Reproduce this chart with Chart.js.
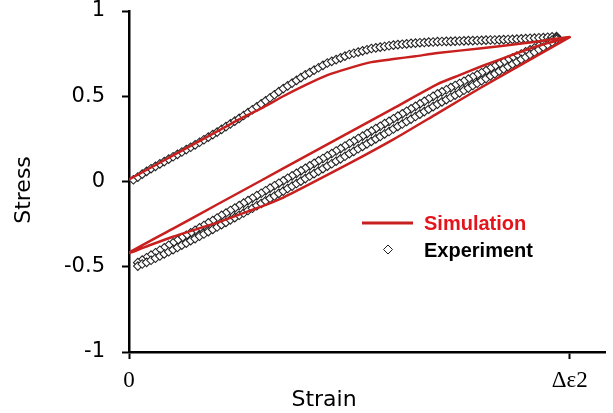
<!DOCTYPE html>
<html>
<head>
<meta charset="utf-8">
<script src="https://cdn.jsdelivr.net/npm/chart.js@4"></script>
<style>
  body { margin: 0; background: #fff; }
  canvas { display: block; }
</style>
</head>
<body>
<canvas id="hystChart" width="613" height="413"></canvas>
<script>
// tick labels
const xTickValues = [0, 1];
const xTickLabels = ["0", "Δε2"];
const yTickValues = [-1, -0.5, 0, 0.5, 1];
const yTickLabels = ["-1", "-0.5", "0", "0.5", "1"];

// simulation: loading, unloading, reloading (one path)
const simStrain = [0, 0.05, 0.1, 0.15, 0.2, 0.25, 0.3, 0.35, 0.4, 0.45, 0.5, 0.55, 0.6, 0.65, 0.7, 0.8, 0.9, 1.0,
    0.95, 0.9, 0.85, 0.8, 0.75, 0.7, 0.6, 0.5, 0.4, 0.3, 0.2, 0.1, 0,
    0.05, 0.1, 0.15, 0.2, 0.25, 0.3, 0.35, 0.4, 0.5, 0.6, 0.7, 0.8, 0.9, 1.0];
const simStress = [0.012, 0.082, 0.153, 0.224, 0.294, 0.365, 0.429, 0.5, 0.565, 0.624, 0.665, 0.7, 0.718, 0.735, 0.753, 0.782, 0.812, 0.847,
    0.812, 0.771, 0.724, 0.676, 0.624, 0.571, 0.429, 0.288, 0.147, 0.006, -0.135, -0.276, -0.418,
    -0.371, -0.324, -0.282, -0.241, -0.194, -0.147, -0.094, -0.029, 0.106, 0.247, 0.4, 0.553, 0.7, 0.847];

// experiment: three branches sampled on the same strain grid
const expStrain = [0.01, 0.02, 0.03, 0.04, 0.05, 0.06, 0.07, 0.08, 0.09, 0.1,
    0.11, 0.12, 0.13, 0.14, 0.15, 0.16, 0.17, 0.18, 0.19, 0.2,
    0.21, 0.22, 0.23, 0.24, 0.25, 0.26, 0.27, 0.28, 0.29, 0.3,
    0.31, 0.32, 0.33, 0.34, 0.35, 0.36, 0.37, 0.38, 0.39, 0.4,
    0.41, 0.42, 0.43, 0.44, 0.45, 0.46, 0.47, 0.48, 0.49, 0.5,
    0.51, 0.52, 0.53, 0.54, 0.55, 0.56, 0.57, 0.58, 0.59, 0.6,
    0.61, 0.62, 0.63, 0.64, 0.65, 0.66, 0.67, 0.68, 0.69, 0.7,
    0.71, 0.72, 0.73, 0.74, 0.75, 0.76, 0.77, 0.78, 0.79, 0.8,
    0.81, 0.82, 0.83, 0.84, 0.85, 0.86, 0.87, 0.88, 0.89, 0.9,
    0.91, 0.92, 0.93, 0.94, 0.95, 0.96, 0.97];
const expLoading = [0.01, 0.026, 0.043, 0.059, 0.075, 0.089, 0.103, 0.117, 0.131, 0.145,
    0.159, 0.173, 0.187, 0.201, 0.215, 0.23, 0.245, 0.26, 0.275, 0.29,
    0.306, 0.322, 0.338, 0.354, 0.37, 0.387, 0.404, 0.421, 0.438, 0.455,
    0.473, 0.491, 0.509, 0.527, 0.545, 0.561, 0.577, 0.593, 0.609, 0.625,
    0.639, 0.653, 0.667, 0.681, 0.695, 0.705, 0.715, 0.725, 0.735, 0.745,
    0.752, 0.759, 0.766, 0.773, 0.78, 0.784, 0.788, 0.792, 0.796, 0.8,
    0.803, 0.805, 0.807, 0.81, 0.812, 0.814, 0.815, 0.817, 0.818, 0.82,
    0.821, 0.822, 0.822, 0.823, 0.824, 0.825, 0.826, 0.826, 0.827, 0.828,
    0.829, 0.83, 0.83, 0.831, 0.832, 0.833, 0.834, 0.835, 0.837, 0.838,
    0.84, 0.841, 0.843, 0.844, 0.846, 0.848, 0.85];
const expUnloading = [null, -0.476, -0.461, -0.447, -0.432, -0.418, -0.403, -0.389, -0.374, -0.36,
    -0.345, -0.33, -0.316, -0.301, -0.287, -0.272, -0.258, -0.243, -0.229, -0.214,
    -0.199, -0.185, -0.17, -0.156, -0.141, -0.127, -0.112, -0.098, -0.083, -0.069,
    -0.054, -0.039, -0.025, -0.01, 0.004, 0.019, 0.033, 0.048, 0.062, 0.077,
    0.092, 0.106, 0.121, 0.135, 0.15, 0.164, 0.179, 0.193, 0.208, 0.223,
    0.237, 0.252, 0.266, 0.281, 0.295, 0.31, 0.324, 0.339, 0.353, 0.368,
    0.383, 0.397, 0.412, 0.426, 0.441, 0.455, 0.47, 0.484, 0.499, 0.514,
    0.526, 0.538, 0.551, 0.563, 0.575, 0.588, 0.6, 0.613, 0.625, 0.638,
    0.65, 0.663, 0.675, 0.688, 0.7, 0.712, 0.724, 0.736, 0.748, 0.76,
    0.772, 0.783, 0.795, 0.806, 0.818, 0.83, 0.842];
const expReloading = [null, -0.496, -0.484, -0.474, -0.462, -0.45, -0.437, -0.425, -0.412, -0.4,
    -0.387, -0.373, -0.361, -0.347, -0.335, -0.321, -0.308, -0.294, -0.281, -0.267,
    -0.253, -0.24, -0.225, -0.212, -0.198, -0.185, -0.17, -0.157, -0.142, -0.129,
    -0.114, -0.099, -0.085, -0.07, -0.056, -0.041, -0.027, -0.012, 0.002, 0.017,
    0.032, 0.046, 0.061, 0.075, 0.09, 0.104, 0.119, 0.133, 0.148, 0.163,
    0.177, 0.192, 0.206, 0.221, 0.235, 0.25, 0.264, 0.279, 0.293, 0.308,
    0.323, 0.337, 0.352, 0.366, 0.381, 0.395, 0.41, 0.424, 0.439, 0.454,
    0.467, 0.48, 0.494, 0.507, 0.52, 0.535, 0.548, 0.563, 0.576, 0.591,
    0.604, 0.619, 0.632, 0.647, 0.66, 0.674, 0.688, 0.702, 0.716, 0.73,
    0.745, 0.759, 0.774, 0.788, 0.803, 0.818, 0.834];

const SIM_RED = "#c8201f";

const toPoints = (xs, ys) => xs.map((x, i) => ({ x: x, y: ys[i] })).filter(p => p.y !== null);

const expPoints = []
    .concat(toPoints(expStrain, expLoading))
    .concat(toPoints(expStrain, expUnloading).reverse())
    .concat(toPoints(expStrain, expReloading));

// titles and legend drawn by hand (legend sits inside the plot)
const extrasPlugin = {
    id: "extras",
    afterDraw(chart) {
        const ctx = chart.ctx;
        ctx.save();
        ctx.fillStyle = "#000";
        ctx.font = "22px 'DejaVu Sans'";
        ctx.textAlign = "center";
        ctx.textBaseline = "middle";
        ctx.fillText("Strain", 324, 400);
        ctx.translate(24, 190);
        ctx.rotate(-Math.PI / 2);
        ctx.fillText("Stress", 0, 0);
        ctx.restore();

        ctx.save();
        ctx.strokeStyle = SIM_RED;
        ctx.lineWidth = 3;
        ctx.beginPath();
        ctx.moveTo(362, 223);
        ctx.lineTo(413, 223);
        ctx.stroke();

        // diamond marker
        ctx.fillStyle = "#fff";
        ctx.strokeStyle = "#222";
        ctx.lineWidth = 1;
        ctx.beginPath();
        ctx.moveTo(388, 245);
        ctx.lineTo(392.5, 249.5);
        ctx.lineTo(388, 254);
        ctx.lineTo(383.5, 249.5);
        ctx.closePath();
        ctx.fill();
        ctx.stroke();

        ctx.font = "bold 20px 'Liberation Sans'";
        ctx.textAlign = "left";
        ctx.textBaseline = "alphabetic";
        ctx.fillStyle = "#e3141c";
        ctx.fillText("Simulation", 424, 230);
        ctx.fillStyle = "#000";
        ctx.fillText("Experiment", 424, 257);
        ctx.restore();
    }
};

const ctx = document.getElementById("hystChart").getContext("2d");

new Chart(ctx, {
    type: "scatter",
    data: {
        datasets: [
            {
                label: "Simulation",
                data: toPoints(simStrain, simStress),
                showLine: true,
                borderColor: SIM_RED,
                borderWidth: 2.5,
                pointRadius: 0,
                tension: 0.2,
                fill: false
            },
            {
                label: "Experiment",
                data: expPoints,
                showLine: false,
                pointStyle: "rectRot",
                pointRadius: 4.3,
                backgroundColor: "#fff",
                borderColor: "#222",
                borderWidth: 1.1
            }
        ]
    },
    options: {
        responsive: false,
        animation: false,
        layout: {
            padding: { top: 11, right: 8, bottom: 0, left: 0 }
        },
        plugins: {
            legend: { display: false },
            tooltip: { enabled: false }
        },
        scales: {
            x: {
                type: "linear",
                min: 0,
                max: 1.08,
                afterBuildTicks: scale => {
                    scale.ticks = xTickValues.map(v => ({ value: v }));
                },
                afterFit: scale => {
                    scale.height = 61;
                    scale.paddingLeft = 0;
                    scale.paddingRight = 0;
                },
                ticks: {
                    color: "#000",
                    font: { family: "'Liberation Serif'", size: 23 },
                    padding: 8,
                    maxRotation: 0,
                    autoSkip: false,
                    callback: (value) => {
                        const i = xTickValues.indexOf(value);
                        return i >= 0 ? xTickLabels[i] : "";
                    }
                },
                grid: {
                    drawOnChartArea: false,
                    drawTicks: true,
                    tickLength: 7,
                    tickWidth: 2,
                    tickColor: "#000"
                },
                border: { display: true, color: "#000", width: 2.5 }
            },
            y: {
                type: "linear",
                min: -1,
                max: 1,
                afterBuildTicks: scale => {
                    scale.ticks = yTickValues.map(v => ({ value: v }));
                },
                afterFit: scale => {
                    scale.width = 129;
                    scale.paddingTop = 0;
                    scale.paddingBottom = 0;
                },
                ticks: {
                    color: "#000",
                    font: { family: "'DejaVu Sans'", size: 21 },
                    padding: 17,
                    callback: (value) => {
                        const i = yTickValues.indexOf(value);
                        return i >= 0 ? yTickLabels[i] : "";
                    }
                },
                grid: {
                    drawOnChartArea: false,
                    drawTicks: true,
                    tickLength: 7,
                    tickWidth: 2,
                    tickColor: "#000"
                },
                border: { display: true, color: "#000", width: 2.5 }
            }
        }
    },
    plugins: [extrasPlugin]
});
</script>
</body>
</html>
